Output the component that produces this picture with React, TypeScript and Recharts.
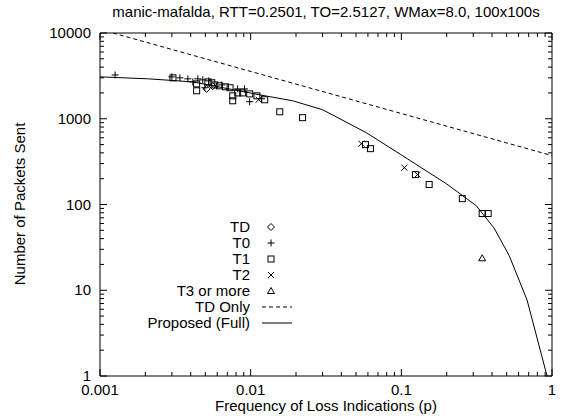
import React from "react";
import { ScatterChart, Scatter, XAxis, YAxis } from "recharts";

// [p, packets] pairs
const tdPoints: [number, number][] = [
  [0.0051, 2230],
  [0.0056, 2400],
];

const t0Points: [number, number][] = [
  [0.00126, 3240],
  [0.003, 3080],
  [0.00339, 3000],
  [0.00383, 2920],
  [0.00413, 2690],
  [0.00446, 2920],
  [0.00481, 2840],
  [0.00527, 2770],
  [0.00496, 2300],
  [0.00643, 2480],
  [0.0082, 2230],
  [0.0091, 2230],
  [0.00985, 1580],
  [0.0118, 1710],
];

const t1Points: [number, number][] = [
  [0.00305, 3000],
  [0.00438, 2550],
  [0.00438, 2120],
  [0.0052, 2690],
  [0.00552, 2630],
  [0.00578, 2480],
  [0.0062, 2420],
  [0.0068, 2360],
  [0.0073, 2300],
  [0.0082, 2000],
  [0.00885, 2000],
  [0.0076, 1850],
  [0.0076, 1620],
  [0.00985, 1950],
  [0.011, 1850],
  [0.0124, 1665],
  [0.0156, 1205],
  [0.0221, 1030],
  [0.0578, 499],
  [0.0624, 448],
  [0.124, 223],
  [0.153, 171],
  [0.254, 117],
  [0.344, 78.5],
  [0.377, 78.5],
];

const t2Points: [number, number][] = [
  [0.0113, 1665],
  [0.0543, 512],
  [0.1047, 269],
  [0.128, 223],
];

const t3Points: [number, number][] = [[0.344, 23.6]];

const tdOnlyLine: [number, number][] = [
  [0.00122, 10000],
  [1, 372],
];

const proposedLine: [number, number][] = [
  [0.001, 3080],
  [0.0021, 2920],
  [0.00413, 2690],
  [0.0115, 1900],
  [0.019, 1620],
  [0.03, 1275],
  [0.0586, 687],
  [0.1016, 372],
  [0.1986, 175],
  [0.314, 97],
  [0.413, 53],
  [0.519, 25.5],
  [0.683, 7.7],
  [0.927, 1],
];

const xDecades = [0.001, 0.01, 0.1, 1];
const yDecades = [1, 10, 100, 1000, 10000];
const minorSteps = [2, 3, 4, 5, 6, 7, 8, 9];

const title = "manic-mafalda, RTT=0.2501, TO=2.5127, WMax=8.0, 100x100s";
const xTitle = "Frequency of Loss Indications (p)";
const yTitle = "Number of Packets Sent";

const legendItems = [
  { label: "TD", kind: "diamond" },
  { label: "T0", kind: "plus" },
  { label: "T1", kind: "box" },
  { label: "T2", kind: "cross" },
  { label: "T3 or more", kind: "tri" },
  { label: "TD Only", kind: "dash" },
  { label: "Proposed (Full)", kind: "solid" },
];

const toRows = (pts: [number, number][]) => pts.map(([p, n]) => ({ p, n }));

const withMinors = (decades: number[]) => {
  const out: number[] = [];
  decades.forEach((d, i) => {
    out.push(d);
    if (i < decades.length - 1) minorSteps.forEach((m) => out.push(+(d * m).toPrecision(3)));
  });
  return out;
};

const xTicks = withMinors(xDecades);
const yTicks = withMinors(yDecades);

const FONT = "'Liberation Sans', Arial, Helvetica, sans-serif";
const FS = 15;

const isDecade = (v: number) => {
  const l = Math.log10(v);
  return Math.abs(l - Math.round(l)) < 1e-6;
};

const axisTick = (side: "bottom" | "left" | "top" | "right") => (props: any) => {
  const { x, y, payload } = props;
  const v = payload.value;
  const major = isDecade(v);
  const len = major ? 7 : 4;
  let line = null;
  let label = null;
  if (side === "bottom") {
    line = <line x1={x} y1={y} x2={x} y2={y - len} stroke="#000" />;
    if (major)
      label = (
        <text x={x} y={y + 19} textAnchor="middle" fontSize={FS} fontFamily={FONT} fill="#000">
          {String(v)}
        </text>
      );
  } else if (side === "top") {
    line = <line x1={x} y1={y} x2={x} y2={y + len} stroke="#000" />;
  } else if (side === "left") {
    line = <line x1={x} y1={y} x2={x + len} y2={y} stroke="#000" />;
    if (major)
      label = (
        <text x={x - 9} y={y + 5} textAnchor="end" fontSize={FS} fontFamily={FONT} fill="#000">
          {String(v)}
        </text>
      );
  } else {
    line = <line x1={x} y1={y} x2={x - len} y2={y} stroke="#000" />;
  }
  return (
    <g>
      {line}
      {label}
    </g>
  );
};

const Glyph = ({ kind, cx, cy }: { kind: string; cx: number; cy: number }) => {
  const s = 3.5;
  switch (kind) {
    case "plus":
      return <path d={`M${cx - s},${cy}h${2 * s}M${cx},${cy - s}v${2 * s}`} stroke="#000" fill="none" />;
    case "box":
      return <rect x={cx - 3} y={cy - 3} width={6} height={6} stroke="#000" fill="none" />;
    case "cross":
      return (
        <path d={`M${cx - 3},${cy - 3}L${cx + 3},${cy + 3}M${cx - 3},${cy + 3}L${cx + 3},${cy - 3}`} stroke="#000" fill="none" />
      );
    case "diamond":
      return <path d={`M${cx},${cy - 3.5}L${cx + 3.5},${cy}L${cx},${cy + 3.5}L${cx - 3.5},${cy}Z`} stroke="#000" fill="none" />;
    case "tri":
      return <path d={`M${cx},${cy - 3.5}L${cx + 3.5},${cy + 2.5}L${cx - 3.5},${cy + 2.5}Z`} stroke="#000" fill="none" />;
    default:
      return <g />;
  }
};

const shapeOf = (kind: string) => (props: any) => <Glyph kind={kind} cx={props.cx} cy={props.cy} />;
const NoDot = () => <g />;

const App: React.FC = () => {
  return (
    <div style={{ position: "absolute", left: 0, top: 0, width: 566, height: 418, background: "#fff" }}>
      <ScatterChart width={566} height={418} margin={{ top: 32, right: 13, bottom: 0, left: 0 }}>
        <XAxis
          dataKey="p"
          type="number"
          scale="log"
          domain={[0.001, 1]}
          allowDataOverflow
          ticks={xTicks}
          interval={0}
          height={42}
          tickSize={0}
          tickMargin={0}
          tickLine={false}
          axisLine={{ stroke: "#000" }}
          tick={axisTick("bottom")}
        />
        <XAxis
          xAxisId="top"
          dataKey="p"
          orientation="top"
          type="number"
          scale="log"
          domain={[0.001, 1]}
          allowDataOverflow
          ticks={xTicks}
          interval={0}
          height={1}
          tickSize={0}
          tickMargin={0}
          tickLine={false}
          axisLine={{ stroke: "#000" }}
          tick={axisTick("top")}
        />
        <YAxis
          dataKey="n"
          type="number"
          scale="log"
          domain={[1, 10000]}
          allowDataOverflow
          ticks={yTicks}
          interval={0}
          width={100}
          tickSize={0}
          tickMargin={0}
          tickLine={false}
          axisLine={{ stroke: "#000" }}
          tick={axisTick("left")}
        />
        <YAxis
          yAxisId="right"
          dataKey="n"
          orientation="right"
          type="number"
          scale="log"
          domain={[1, 10000]}
          allowDataOverflow
          ticks={yTicks}
          interval={0}
          width={1}
          tickSize={0}
          tickMargin={0}
          tickLine={false}
          axisLine={{ stroke: "#000" }}
          tick={axisTick("right")}
        />
        {/* invisible series that binds the mirror axes so they draw */}
        <Scatter
          xAxisId="top"
          yAxisId="right"
          data={toRows(tdOnlyLine)}
          shape={NoDot}
          isAnimationActive={false}
        />
        <Scatter
          data={toRows(tdOnlyLine)}
          line={{ stroke: "#000", strokeWidth: 1, strokeDasharray: "4 3" }}
          shape={NoDot}
          isAnimationActive={false}
        />
        <Scatter
          data={toRows(proposedLine)}
          line={{ stroke: "#000", strokeWidth: 1 }}
          shape={NoDot}
          isAnimationActive={false}
        />
        <Scatter data={toRows(tdPoints)} shape={shapeOf("diamond")} isAnimationActive={false} />
        <Scatter data={toRows(t0Points)} shape={shapeOf("plus")} isAnimationActive={false} />
        <Scatter data={toRows(t1Points)} shape={shapeOf("box")} isAnimationActive={false} />
        <Scatter data={toRows(t2Points)} shape={shapeOf("cross")} isAnimationActive={false} />
        <Scatter data={toRows(t3Points)} shape={shapeOf("tri")} isAnimationActive={false} />
      </ScatterChart>
      <svg
        width={566}
        height={418}
        style={{ position: "absolute", left: 0, top: 0, pointerEvents: "none" }}
        fontFamily={FONT}
        fontSize={FS}
      >
        <text x={326} y={17} textAnchor="middle" fill="#000">
          {title}
        </text>
        <text x={326} y={411} textAnchor="middle" fill="#000">
          {xTitle}
        </text>
        <text x={25} y={204} textAnchor="middle" fill="#000" transform="rotate(-90 25 204)">
          {yTitle}
        </text>
        {legendItems.map((it, i) => {
          const cy = 227 + i * 16;
          return (
            <g key={it.label}>
              <text x={250} y={cy + 5} textAnchor="end" fill="#000">
                {it.label}
              </text>
              {it.kind === "dash" || it.kind === "solid" ? (
                <line
                  x1={262}
                  y1={cy}
                  x2={292}
                  y2={cy}
                  stroke="#000"
                  strokeDasharray={it.kind === "dash" ? "4 3" : undefined}
                />
              ) : (
                <Glyph kind={it.kind} cx={271} cy={cy} />
              )}
            </g>
          );
        })}
      </svg>
    </div>
  );
};

export default App;
